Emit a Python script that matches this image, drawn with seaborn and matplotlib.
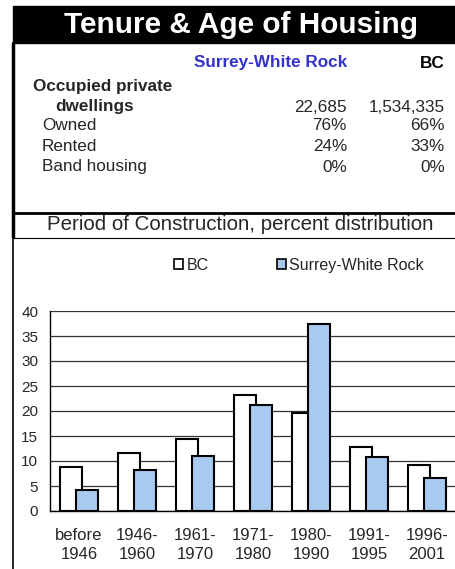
import matplotlib
matplotlib.use('Agg')
import matplotlib.pyplot as plt
import seaborn as sns
from matplotlib.patches import Rectangle, Patch
from matplotlib.lines import Line2D

# Tenure table
table_cols = ['Surrey-White Rock', 'BC']
row_labels = ['Owned', 'Rented', 'Band housing']
dwellings = ['22,685', '1,534,335']
surrey_tenure = ['76%', '24%', '0%']
bc_tenure = ['66%', '33%', '0%']

# Period of construction (percent distribution)
periods = ['before\n1946', '1946-\n1960', '1961-\n1970', '1971-\n1980',
           '1980-\n1990', '1991-\n1995', '1996-\n2001']
bc_pct = [8.9, 11.7, 14.5, 23.2, 19.7, 12.9, 9.3]
surrey_pct = [4.2, 8.3, 11.1, 21.3, 37.5, 10.9, 6.7]

sns.set_style('white')
plt.rcParams['font.family'] = ['Liberation Sans', 'DejaVu Sans']

W, H = 456, 569
fig = plt.figure(figsize=(W / 100, H / 100), dpi=100)


def fx(x):
    return x / W


def fy(y):
    return 1 - y / H


# header block and frame lines
fig.patches.append(Rectangle((fx(13), fy(43)), fx(456) - fx(13), fy(6) - fy(43),
                             transform=fig.transFigure, color='black', zorder=0))
fig.lines.append(Line2D([fx(13), fx(13)], [fy(43), fy(237)], transform=fig.transFigure,
                        color='black', linewidth=2.5))
fig.lines.append(Line2D([fx(13), fx(13)], [fy(237), fy(569)], transform=fig.transFigure,
                        color='black', linewidth=1.2))
fig.lines.append(Line2D([fx(13), fx(456)], [fy(213), fy(213)], transform=fig.transFigure,
                        color='black', linewidth=2))
fig.lines.append(Line2D([fx(13), fx(456)], [fy(238), fy(238)], transform=fig.transFigure,
                        color='black', linewidth=0.8))

fig.text(fx(241), fy(25), 'Tenure & Age of Housing', color='white', fontsize=21.4,
         fontweight='bold', ha='center', va='center')

fs = 12.3
fig.text(fx(347), fy(63), table_cols[0], color='#3333cc', fontsize=fs,
         fontweight='bold', ha='right', va='center')
fig.text(fx(445), fy(63), table_cols[1], color='black', fontsize=fs,
         fontweight='bold', ha='right', va='center')

fig.text(fx(33), fy(87), 'Occupied private', fontsize=fs, fontweight='bold', va='center')
fig.text(fx(55), fy(107), 'dwellings', fontsize=fs, fontweight='bold', va='center')
fig.text(fx(347), fy(107), dwellings[0], fontsize=fs, ha='right', va='center')
fig.text(fx(445), fy(107), dwellings[1], fontsize=fs, ha='right', va='center')

for i, lab in enumerate(row_labels):
    y = 126 + i * 20.5
    fig.text(fx(42), fy(y), lab, fontsize=fs, va='center')
    fig.text(fx(347), fy(y), surrey_tenure[i], fontsize=fs, ha='right', va='center')
    fig.text(fx(445), fy(y), bc_tenure[i], fontsize=fs, ha='right', va='center')

fig.text(fx(240), fy(225), 'Period of Construction, percent distribution',
         fontsize=14.8, ha='center', va='center')

# bar chart
ax = fig.add_axes([fx(50), fy(511), fx(456) - fx(50), fy(311) - fy(511)])
blue = '#a6caf0'
bar_w = 0.38
shift = 0.13

sns.barplot(x=periods, y=bc_pct, color='white', edgecolor='black',
            linewidth=1.5, width=bar_w, ax=ax)
n_first = len(ax.patches)
for p in ax.patches:
    p.set_x(p.get_x() - shift)
sns.barplot(x=periods, y=surrey_pct, color=blue, edgecolor='black',
            linewidth=1.5, width=bar_w, ax=ax)
for p in ax.patches[n_first:]:
    p.set_x(p.get_x() + shift)
    p.set_facecolor(blue)

ax.set_xlim(-0.5, len(periods) - 0.5)
ax.set_ylim(0, 40)
ax.set_yticks(range(0, 41, 5))
ax.yaxis.grid(True, color='#333333', linewidth=0.9)
ax.set_axisbelow(True)
for s in ['top', 'right']:
    ax.spines[s].set_visible(False)
for s in ['left', 'bottom']:
    ax.spines[s].set_color('black')
    ax.spines[s].set_linewidth(1)
ax.tick_params(axis='y', length=0, labelsize=11, pad=8.5)
ax.tick_params(axis='x', length=0, labelsize=12, pad=12)
for t in ax.get_xticklabels():
    t.set_linespacing(1.35)
ax.set_xlabel('')
ax.set_ylabel('')

handles = [Patch(facecolor='white', edgecolor='black', linewidth=1.2, label='BC'),
           Patch(facecolor=blue, edgecolor='black', linewidth=1.2, label='Surrey-White Rock')]
fig.legend(handles=handles, loc='center', bbox_to_anchor=(fx(299), fy(265)), ncol=2,
           frameon=False, fontsize=11.5, handlelength=0.55, handleheight=0.55,
           handletextpad=0.2, columnspacing=4.3)

fig.savefig('out.png', dpi=100)
